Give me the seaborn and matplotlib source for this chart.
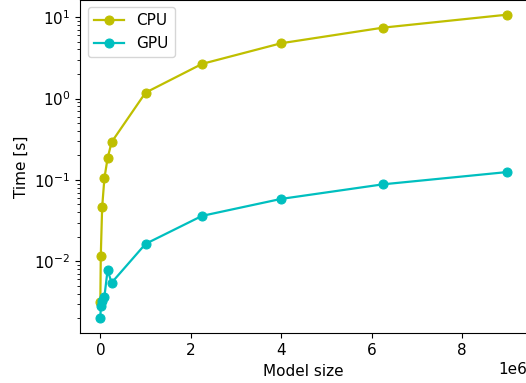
import matplotlib
matplotlib.use("Agg")
import matplotlib.pyplot as plt
import seaborn as sns
import pandas as pd

model_size = [100, 1e4, 4e4, 9e4, 1.6e5, 2.5e5, 1e6, 2.25e6, 4e6, 6.25e6, 9e6]
cpu_time = [0.00316, 0.0118, 0.0461, 0.105, 0.184, 0.292, 1.18, 2.66, 4.77, 7.41, 10.7]
gpu_time = [0.00201, 0.00282, 0.00325, 0.00368, 0.0078, 0.00547, 0.0164, 0.0362, 0.0585, 0.0883, 0.125]

plt.rcParams['font.size'] = 11

fig = plt.figure(figsize=(5.26, 3.83), dpi=100)
ax = fig.add_axes([80 / 526, 1 - 333.3 / 383, (527.5 - 80) / 526, (333.3 + 0.5) / 383])

df = pd.DataFrame({"size": model_size, "CPU": cpu_time, "GPU": gpu_time})
sns.lineplot(data=df, x="size", y="CPU", ax=ax, color="y", marker="o",
             markersize=6.5, markeredgecolor="y", linewidth=1.6, label="CPU", sort=False)
sns.lineplot(data=df, x="size", y="GPU", ax=ax, color="c", marker="o",
             markersize=6.5, markeredgecolor="c", linewidth=1.6, label="GPU", sort=False)

ax.set_yscale("log")
ax.set_xlabel("Model size")
ax.set_ylabel("Time [s]")
ax.legend(loc="upper left")
ax.spines["right"].set_visible(False)

fig.savefig("out.png", dpi=100)
